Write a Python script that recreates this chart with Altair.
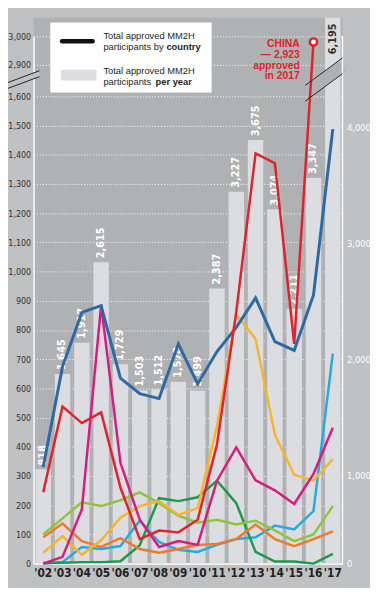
import altair as alt
import pandas as pd

# ---------------- data ----------------
years = ["'02", "'03", "'04", "'05", "'06", "'07", "'08", "'09",
         "'10", "'11", "'12", "'13", "'14", "'15", "'16", "'17"]
totals = [818, 1645, 1917, 2615, 1729, 1503, 1512, 1578,
          1499, 2387, 3227, 3675, 3074, 2211, 3347, 6195]

china   = [244, 538, 481, 518, 260, 84, 113, 107, 150, 408, 862, 1405, 1371, 752, 2980]
blue    = [331, 675, 860, 883, 635, 582, 565, 752, 615, 726, 809, 910, 760, 730, 920, 1488]
magenta = [0, 23, 185, 886, 345, 150, 57, 77, 64, 284, 398, 285, 251, 204, 307, 465]
yellow  = [37, 94, 30, 80, 157, 197, 214, 167, 190, 470, 853, 769, 441, 304, 285, 358]
lgreen  = [100, 155, 210, 197, 217, 244, 207, 164, 140, 150, 134, 147, 114, 77, 100, 197]
dgreen  = [2, 3, 5, 5, 8, 63, 224, 214, 227, 284, 207, 40, 7, 7, 0, 33]
orange  = [90, 137, 77, 57, 87, 50, 37, 50, 64, 67, 84, 134, 84, 60, 84, 110]
cyan    = [0, 5, 57, 50, 60, 147, 74, 47, 40, 64, 84, 90, 130, 117, 180, 719]

left_ticks = list(range(0, 1700, 100)) + [2900, 3000]
right_ticks = [0, 1000, 2000, 3000, 4000]

china_note = "CHINA\n\u2014 2,923\napproved\nin 2017"

# ---------------- style ----------------
NARROW = "Liberation Sans Narrow, DejaVu Sans Condensed, sans-serif"
SANS = "Liberation Sans, Arial, sans-serif"
OUTER_BG = "#bfc1c3"
PLOT_BG = "#afb1b3"
BAR_C = "#dcdde0"
RED = "#e3212b"

W, H = 314, 555

LEFT = alt.Scale(domain=[0, 1600, 2900, 3000], range=[H, 80, 48, 19], nice=False, zero=False)
BAR = alt.Scale(domain=[0, 4200, 6195], range=[H, 63, 0], nice=False, zero=False)
RIGHT = alt.Scale(domain=[0, 1000, 4000], range=[H, 466, 112], nice=False, zero=False)

FMT = "format(datum.value, ',')"

X_AXIS = alt.Axis(labelAngle=0, labelFont=NARROW, labelFontSize=12, labelFontWeight="bold",
                  labelColor="#222222", labelPadding=4, ticks=False, domainColor="white",
                  domainWidth=1.5, grid=False, title=None)
X = alt.X("year:N", sort=years, scale=alt.Scale(paddingInner=0.2, paddingOuter=0.1),
          axis=X_AXIS, title=None)

LEFT_AXIS = alt.Axis(orient="left", values=left_ticks, labelExpr=FMT, labelFont=NARROW,
                     labelFontSize=9, labelColor="#333333", labelPadding=3, ticks=False,
                     domainColor="white", domainWidth=1.5, grid=True, gridColor="white",
                     gridDash=[1, 2], gridWidth=1, title=None)
YL = alt.Y("value:Q", scale=LEFT, axis=LEFT_AXIS, title=None)
YB = alt.Y("total:Q", scale=BAR, axis=None)

# ---------------- bars ----------------
bar_df = pd.DataFrame({"year": years, "total": totals,
                       "label": [f"{v:,}" for v in totals]})

bars = alt.Chart(bar_df).mark_bar(color=BAR_C).encode(x=X, y=YB)
bar_text = alt.Chart(bar_df).transform_filter("datum.total < 6000").mark_text(
    angle=270, align="left", baseline="middle", dx=4, font=NARROW, fontSize=11,
    fontWeight="bold", color="white").encode(x=X, y=YB, text="label:N")
big_text = alt.Chart(bar_df).transform_filter("datum.total >= 6000").mark_text(
    angle=270, align="right", baseline="middle", dx=-6, font=NARROW, fontSize=11,
    fontWeight="bold", color="#333333").encode(x=X, y=YB, text="label:N")
bar_group = alt.layer(bars, bar_text, big_text)


def deco_rule(x, x2, y, y2, color, w, cap="butt"):
    return alt.Chart(pd.DataFrame({"d": [0]})).mark_rule(
        color=color, strokeWidth=w, strokeCap=cap).encode(
        x=alt.value(x), x2=alt.value(x2), y=alt.value(y), y2=alt.value(y2))


def deco_text(x, y, txt, weight="normal", size=9.5, color="#231f20", font=SANS):
    return alt.Chart(pd.DataFrame({"d": [0]})).mark_text(
        text=txt, align="left", baseline="middle", font=font, fontSize=size,
        fontWeight=weight, color=color).encode(x=alt.value(x), y=alt.value(y))


# break band on the 2017 bar (drawn under the lines)
right_band = deco_rule(276, 314, 77, 49, PLOT_BG, 12)

# ---------------- lines ----------------
series = [
    (cyan, "#22abe2", 2.5),
    (dgreen, "#1a9b4b", 2.5),
    (lgreen, "#8cc63e", 2.5),
    (orange, "#ef7a2b", 2.5),
    (yellow, "#f8b42d", 2.5),
    (magenta, "#d71b7f", 2.5),
    (blue, "#2c6aa6", 3),
    (china, RED, 2.5),
]
line_layers = []
for vals, col, sw in series:
    df = pd.DataFrame({"year": years[:len(vals)], "value": vals})
    line_layers.append(alt.Chart(df).mark_line(color=col, strokeWidth=sw).encode(x=X, y=YL))

end_df = pd.DataFrame({"year": [years[len(china) - 1]], "value": [china[-1]]})
circle = alt.Chart(end_df).mark_circle(color="white", stroke=RED, strokeWidth=2.5,
                                       size=55, opacity=1).encode(x=X, y=YL)
note = alt.Chart(end_df).mark_text(text=china_note, lineBreak="\n", align="right",
                                   baseline="top", dx=-14, dy=-3, font=SANS, fontSize=10.5,
                                   fontWeight="bold", color=RED, lineHeight=11).encode(x=X, y=YL)
line_group = alt.layer(*line_layers, circle, note)

# ---------------- right axis ----------------
right_axis = alt.Chart(pd.DataFrame({"v": right_ticks})).mark_point(opacity=0).encode(
    y=alt.Y("v:Q", scale=RIGHT,
            axis=alt.Axis(orient="right", values=right_ticks, labelExpr=FMT, labelFont=NARROW,
                          labelFontSize=9.5, labelColor="white", labelPadding=4, ticks=False,
                          domain=False, grid=False, title=None)))

# ---------------- decorations ----------------
decos = [
    deco_rule(W, W, 19, H, "white", 1.5),
    # left axis break
    deco_rule(-29, 6, 70, 57, OUTER_BG, 5),
    deco_rule(-29, 6, 67, 54, "#222222", 1),
    deco_rule(-29, 6, 73, 60, "#222222", 1),
    # right break lines
    deco_rule(276, 314, 69, 41, "#222222", 1),
    deco_rule(276, 314, 85, 57, "#222222", 1),
    # legend box
    alt.Chart(pd.DataFrame({"d": [0]})).mark_rect(color="white").encode(
        x=alt.value(17), x2=alt.value(181), y=alt.value(5), y2=alt.value(76)),
    deco_rule(29, 60, 24, 24, "#111111", 4.5, "round"),
    alt.Chart(pd.DataFrame({"d": [0]})).mark_rect(color=BAR_C).encode(
        x=alt.value(28), x2=alt.value(64), y=alt.value(53), y2=alt.value(64)),
    deco_text(71, 19, "Total approved MM2H"),
    deco_text(71, 30, "participants by"),
    deco_text(135, 30, "country", weight="bold"),
    deco_text(71, 54, "Total approved MM2H"),
    deco_text(71, 65, "participants"),
    deco_text(124, 65, "per year", weight="bold"),
]

chart = alt.layer(bar_group, right_band, line_group, right_axis, *decos).resolve_scale(
    y="independent"
).properties(
    width=W, height=H,
    padding={"left": 26, "top": 5, "right": 28, "bottom": 20},
    autosize=alt.AutoSizeParams(type="none"),
    background=OUTER_BG,
).configure_view(fill=PLOT_BG, stroke=None)

chart.save("out.html", embed_options={"renderer": "svg", "actions": False})
